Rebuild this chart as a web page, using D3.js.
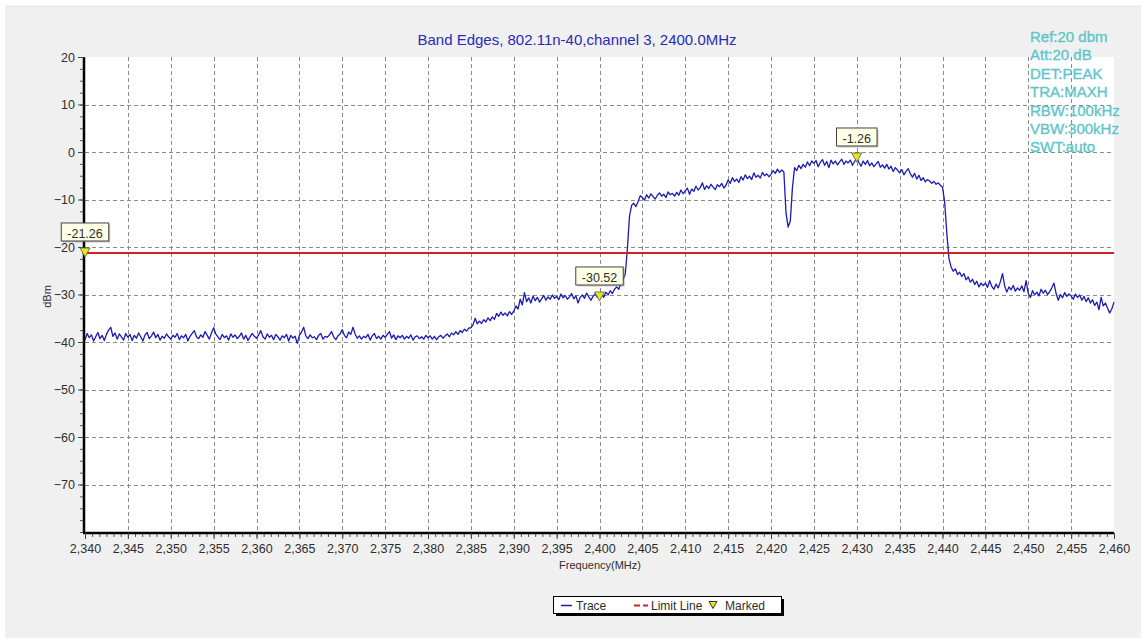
<!DOCTYPE html>
<html>
<head>
<meta charset="utf-8">
<script src="https://cdn.jsdelivr.net/npm/d3@7"></script>
<style>
  html, body { margin: 0; padding: 0; background: #ffffff; }
  svg { display: block; font-family: "Liberation Sans", Arial, sans-serif; }
</style>
</head>
<body>
<svg id="chart" width="1146" height="643"></svg>
<script>
// ---- Data ---------------------------------------------------------------
const title = "Band Edges, 802.11n-40,channel 3, 2400.0MHz";
const settingsText = ["Ref:20 dbm", "Att:20 dB", "DET:PEAK", "TRA:MAXH", "RBW:100kHz", "VBW:300kHz", "SWT:auto"];

// Frequency sweep: 2340 MHz to 2460 MHz, one reading every 0.25 MHz
const freqStart = 2340;
const freqStep = 0.25;
const traceLevels = [
  // 2340 - 2344.75
  -39.6,-38.2,-39.1,-38.5,-39.8,-38.9,-38.0,-39.3,-38.6,-39.7,-38.4,-37.5,-36.9,-38.8,-38.1,-39.4,-38.3,-38.9,-39.6,-38.2,
  // 2345 - 2349.75
  -39.0,-38.4,-39.7,-38.6,-39.2,-38.1,-38.9,-39.8,-38.5,-38.0,-39.3,-38.7,-37.9,-39.1,-38.4,-39.6,-38.8,-39.2,-38.3,-38.9,
  // 2350 - 2354.75
  -39.4,-38.6,-39.0,-38.2,-39.5,-38.7,-39.1,-38.4,-39.8,-38.8,-38.2,-37.6,-38.9,-39.3,-38.5,-39.0,-37.8,-38.6,-39.4,-38.1,
  // 2355 - 2359.75
  -37.0,-38.3,-38.9,-39.5,-38.4,-39.1,-38.7,-39.6,-38.3,-39.0,-38.5,-39.3,-38.8,-38.1,-39.4,-38.6,-39.7,-38.9,-38.2,-38.8,
  // 2360 - 2364.75
  -39.2,-38.5,-37.6,-38.9,-39.4,-38.3,-39.0,-38.6,-39.5,-38.4,-38.9,-39.6,-38.7,-39.1,-38.4,-39.8,-38.6,-39.2,-38.8,-40.3,
  // 2365 - 2369.75
  -38.6,-37.9,-36.9,-38.7,-39.3,-38.5,-39.1,-38.9,-39.5,-38.6,-38.2,-39.4,-38.8,-39.0,-38.5,-37.8,-38.9,-39.5,-38.7,-38.3,
  // 2370 - 2374.75
  -37.4,-38.6,-39.1,-37.9,-38.4,-36.9,-38.3,-39.2,-38.7,-39.4,-38.8,-39.1,-38.4,-39.6,-38.7,-38.2,-39.3,-38.8,-39.4,-38.6,
  // 2375 - 2379.75
  -39.0,-38.4,-37.8,-39.2,-38.5,-39.5,-38.7,-39.1,-38.6,-39.4,-38.8,-39.2,-38.5,-39.6,-38.9,-38.7,-39.3,-38.9,-39.4,-38.6,
  // 2380 - 2384.75
  -39.1,-38.7,-39.4,-38.8,-39.5,-38.9,-38.6,-39.2,-38.7,-38.3,-38.9,-38.1,-38.5,-37.8,-38.4,-37.6,-38.0,-37.3,-37.7,-37.1,
  // 2385 - 2389.75
  -37.0,-36.4,-35.0,-36.2,-35.6,-36.1,-35.3,-35.8,-34.9,-35.5,-34.7,-35.2,-34.0,-34.6,-33.7,-34.4,-33.9,-34.5,-33.6,-34.2,
  // 2390 - 2394.75
  -33.5,-32.4,-33.1,-31.0,-32.2,-29.6,-31.5,-30.7,-31.8,-30.3,-31.3,-30.6,-31.6,-30.9,-30.2,-31.2,-30.5,-31.0,-30.1,-30.8,
  // 2395 - 2399.75
  -30.4,-31.1,-29.9,-30.7,-30.2,-31.0,-30.5,-29.8,-30.9,-30.3,-31.8,-30.6,-30.1,-30.8,-29.7,-30.5,-31.2,-30.4,-29.9,-30.6,
  // 2400 - 2404.75 (lower band edge)
  -30.52,-29.9,-30.6,-29.5,-30.1,-29.2,-29.8,-28.9,-28.4,-28.9,-27.6,-26.8,-25.8,-20.5,-13.5,-11.2,-10.8,-11.5,-10.4,-9.2,
  // 2405 - 2409.75
  -9.6,-10.1,-9.0,-9.7,-8.8,-9.4,-9.9,-9.1,-8.6,-9.3,-8.9,-9.6,-8.4,-9.0,-8.7,-9.3,-8.5,-9.1,-8.0,-8.8,
  // 2410 - 2414.75
  -8.2,-7.6,-8.9,-7.8,-8.3,-7.2,-8.0,-7.5,-6.5,-7.9,-7.1,-7.7,-6.8,-7.4,-7.9,-6.9,-7.3,-6.6,-7.6,-7.0,
  // 2415 - 2419.75
  -5.9,-6.6,-5.4,-6.2,-5.7,-6.4,-5.2,-5.9,-4.8,-5.6,-5.1,-5.8,-4.4,-5.3,-4.9,-5.5,-4.3,-5.0,-4.6,-5.2,
  // 2420 - 2424.75 (centre notch)
  -4.7,-3.9,-4.5,-3.6,-4.3,-3.8,-4.2,-12.8,-15.8,-14.6,-7.5,-3.3,-3.9,-2.8,-3.5,-2.6,-3.2,-2.1,-2.9,-1.9,
  // 2425 - 2429.75
  -2.4,-1.8,-3.1,-2.2,-1.6,-2.8,-2.0,-3.3,-1.7,-2.5,-1.9,-2.7,-2.1,-1.5,-2.6,-1.9,-2.3,-1.7,-2.8,-2.0,
  // 2430 - 2434.75
  -1.26,-2.2,-3.0,-1.9,-2.6,-1.8,-2.9,-2.3,-3.1,-2.5,-2.0,-3.2,-2.7,-3.4,-2.6,-3.6,-3.0,-4.1,-3.3,-3.8,
  // 2435 - 2439.75
  -4.4,-3.7,-4.8,-4.1,-3.5,-4.6,-5.3,-4.5,-5.7,-4.9,-6.0,-5.4,-6.3,-5.8,-6.1,-6.6,-6.2,-6.8,-6.5,-7.0,
  // 2440 - 2444.75 (upper band edge)
  -7.4,-10.5,-17.0,-22.4,-24.2,-25.1,-24.6,-25.8,-25.3,-26.2,-25.6,-26.9,-26.3,-27.4,-26.8,-27.9,-27.2,-28.4,-27.6,-28.1,
  // 2445 - 2449.75
  -27.6,-28.5,-27.1,-28.3,-28.9,-27.8,-28.6,-27.3,-25.6,-28.2,-29.5,-28.4,-29.0,-28.1,-29.3,-28.6,-29.1,-28.2,-29.4,-27.1,
  // 2450 - 2454.75
  -29.8,-30.6,-29.2,-30.1,-29.5,-30.3,-28.9,-29.7,-29.1,-30.0,-29.4,-28.6,-27.6,-29.8,-31.2,-30.0,-30.7,-29.6,-30.4,-29.9,
  // 2455 - 2459.75
  -30.3,-31.0,-29.9,-30.6,-30.1,-31.2,-30.4,-31.5,-30.7,-31.8,-31.1,-32.3,-31.6,-33.2,-30.6,-32.4,-31.8,-32.9,-33.9,-33.0,
  // 2460
  -31.6
];

const limitLevel = -21.26;
const markerFreqs = [2340, 2400, 2430];
const markerLevels = [-21.26, -30.52, -1.26];

const freqDomain = [2340, 2460];
const levelDomain = [-80, 20];
const freqMajorTicks = d3.range(2340, 2460.001, 5);
const levelMajorTicks = [20, 10, 0, -10, -20, -30, -40, -50, -60, -70];
const legendItems = ["Trace", "Limit Line", "Marked"];

// ---- Layout -------------------------------------------------------------
const svg = d3.select("#chart");
const plot = { left: 85, right: 1114, top: 57, bottom: 532 };

const x = d3.scaleLinear().domain(freqDomain).range([plot.left, plot.right]);
const y = d3.scaleLinear().domain(levelDomain).range([plot.bottom, plot.top]);

const traceColor = "#1c1cb0";
const limitColor = "#cc2222";
const markerFill = "#e6e61e";
const textColor = "#2e2e2e";

// Panel background
svg.append("rect").attr("x", 5).attr("y", 5).attr("width", 1136).attr("height", 633).attr("fill", "#f0f0f0");
svg.append("rect")
  .attr("x", plot.left).attr("y", plot.top)
  .attr("width", plot.right - plot.left).attr("height", plot.bottom - plot.top)
  .attr("fill", "#ffffff");

// Grid
const grid = svg.append("g").attr("stroke", "#8a8a8a").attr("stroke-width", 1).attr("stroke-dasharray", "4,3");
grid.selectAll("line.v")
  .data(freqMajorTicks.filter(f => f > freqDomain[0] && f < freqDomain[1]))
  .join("line").attr("class", "v")
  .attr("x1", d => Math.round(x(d)) + 0.5).attr("x2", d => Math.round(x(d)) + 0.5)
  .attr("y1", plot.top).attr("y2", plot.bottom);
grid.selectAll("line.h")
  .data(levelMajorTicks.filter(v => v < levelDomain[1]))
  .join("line").attr("class", "h")
  .attr("y1", d => Math.round(y(d)) + 0.5).attr("y2", d => Math.round(y(d)) + 0.5)
  .attr("x1", plot.left).attr("x2", plot.right);

// Trace
const traceData = traceLevels.map((v, i) => ({ f: freqStart + i * freqStep, v }));
svg.append("path")
  .datum(traceData)
  .attr("fill", "none")
  .attr("stroke", traceColor)
  .attr("stroke-width", 1.3)
  .attr("stroke-linejoin", "round")
  .attr("d", d3.line().x(d => x(d.f)).y(d => y(d.v)));

// Limit line
svg.append("line")
  .attr("x1", plot.left).attr("x2", plot.right)
  .attr("y1", y(limitLevel)).attr("y2", y(limitLevel))
  .attr("stroke", limitColor).attr("stroke-width", 2.2);

// Axes
const yMinorTicks = d3.range(-80, 20.001, 2.5);
const xMinorTicks = d3.range(0, 144 + 1).map(i => 2340 + i * 5 / 6);

function styleAxis(g) {
  g.select(".domain").attr("stroke", "#000").attr("stroke-width", 2.5);
  g.selectAll(".tick line").attr("stroke", "#444");
  g.selectAll(".tick text").attr("fill", textColor).attr("font-size", 12.5)
    .attr("font-family", "'Liberation Sans', Arial, sans-serif");
}

svg.append("g")
  .attr("transform", `translate(${plot.left - 1},0)`)
  .call(d3.axisLeft(y).tickValues(yMinorTicks).tickSize(4).tickSizeOuter(0).tickFormat(""))
  .call(g => g.select(".domain").remove())
  .call(g => g.selectAll(".tick line").attr("stroke", "#555"));

svg.append("g")
  .attr("transform", `translate(${plot.left - 1},0)`)
  .call(d3.axisLeft(y).tickValues(levelMajorTicks).tickSize(6).tickSizeOuter(0).tickPadding(3).tickFormat(d3.format("d")))
  .call(styleAxis)
  .call(g => g.select(".domain").attr("d", `M0,${plot.top}V${plot.bottom + 1}`));

svg.append("g")
  .attr("transform", `translate(0,${plot.bottom + 1})`)
  .call(d3.axisBottom(x).tickValues(xMinorTicks).tickSize(4).tickSizeOuter(0).tickFormat(""))
  .call(g => g.select(".domain").remove())
  .call(g => g.selectAll(".tick line").attr("stroke", "#555"));

svg.append("g")
  .attr("transform", `translate(0,${plot.bottom + 1})`)
  .call(d3.axisBottom(x).tickValues(freqMajorTicks).tickSize(6).tickSizeOuter(0).tickPadding(5).tickFormat(d3.format(",")))
  .call(styleAxis)
  .call(g => g.select(".domain").attr("d", `M${plot.left - 2},0H${plot.right}`));

// Axis titles
svg.append("text")
  .attr("x", (plot.left + plot.right) / 2 + 0.5).attr("y", 569)
  .attr("text-anchor", "middle").attr("font-size", 11).attr("fill", textColor)
  .text("Frequency(MHz)");
svg.append("text")
  .attr("transform", `translate(51,${(plot.top + plot.bottom) / 2 + 2}) rotate(-90)`)
  .attr("text-anchor", "middle").attr("font-size", 11).attr("fill", textColor)
  .text("dBm");

// Title
svg.append("text")
  .attr("x", 577).attr("y", 45)
  .attr("text-anchor", "middle").attr("font-size", 15).attr("fill", "#2a2ab8")
  .text(title);

// Instrument settings block
svg.append("g").selectAll("text")
  .data(settingsText)
  .join("text")
  .attr("x", 1030).attr("y", (d, i) => 42 + i * 18.4)
  .attr("font-size", 15).attr("fill", "#5ec6c9")
  .attr("stroke", "#5ec6c9").attr("stroke-width", 0.35)
  .text(d => d);

// Markers
const markers = markerFreqs.map((f, i) => ({ f, v: markerLevels[i] }));
const mk = svg.append("g").selectAll("g").data(markers).join("g")
  .attr("transform", d => `translate(${x(d.f)},${y(d.v)})`);

mk.append("path")
  .attr("d", "M-5,-5L5,-5L0,4Z")
  .attr("fill", markerFill).attr("stroke", "#555").attr("stroke-width", 0.8);

mk.each(function (d) {
  const g = d3.select(this);
  const label = d.v.toFixed(2);
  const t = g.append("text")
    .attr("x", 0).attr("y", -15)
    .attr("text-anchor", "middle").attr("font-size", 12.5).attr("fill", textColor)
    .text(label);
  const w = t.node().getComputedTextLength() + 12;
  g.insert("rect", "text")
    .attr("x", -w / 2 + 1.5).attr("y", -28.5).attr("width", w).attr("height", 18)
    .attr("fill", "#888").attr("opacity", 0.5);
  g.insert("rect", "text")
    .attr("x", -w / 2).attr("y", -30).attr("width", w).attr("height", 18)
    .attr("fill", "#ffffe6").attr("stroke", "#444").attr("stroke-width", 1);
});

// Legend
const lg = svg.append("g").attr("transform", "translate(553,596)");
lg.append("rect").attr("x", 3).attr("y", 3).attr("width", 228).attr("height", 17).attr("fill", "#000");
lg.append("rect").attr("x", 0.5).attr("y", 0.5).attr("width", 228).attr("height", 17)
  .attr("fill", "#ffffff").attr("stroke", "#000").attr("stroke-width", 1);
lg.append("line").attr("x1", 8).attr("x2", 19).attr("y1", 9.5).attr("y2", 9.5)
  .attr("stroke", traceColor).attr("stroke-width", 1.5);
lg.append("text").attr("x", 23).attr("y", 13.5).attr("font-size", 12).attr("fill", textColor).text(legendItems[0]);
lg.append("line").attr("x1", 81).attr("x2", 95).attr("y1", 9.5).attr("y2", 9.5)
  .attr("stroke", limitColor).attr("stroke-width", 2).attr("stroke-dasharray", "6,3");
lg.append("text").attr("x", 98).attr("y", 13.5).attr("font-size", 12).attr("fill", textColor).text(legendItems[1]);
lg.append("path").attr("d", "M156,5.5L164,5.5L160,12.5Z")
  .attr("fill", markerFill).attr("stroke", "#333").attr("stroke-width", 1);
lg.append("text").attr("x", 172).attr("y", 13.5).attr("font-size", 12).attr("fill", textColor).text(legendItems[2]);
</script>
</body>
</html>
